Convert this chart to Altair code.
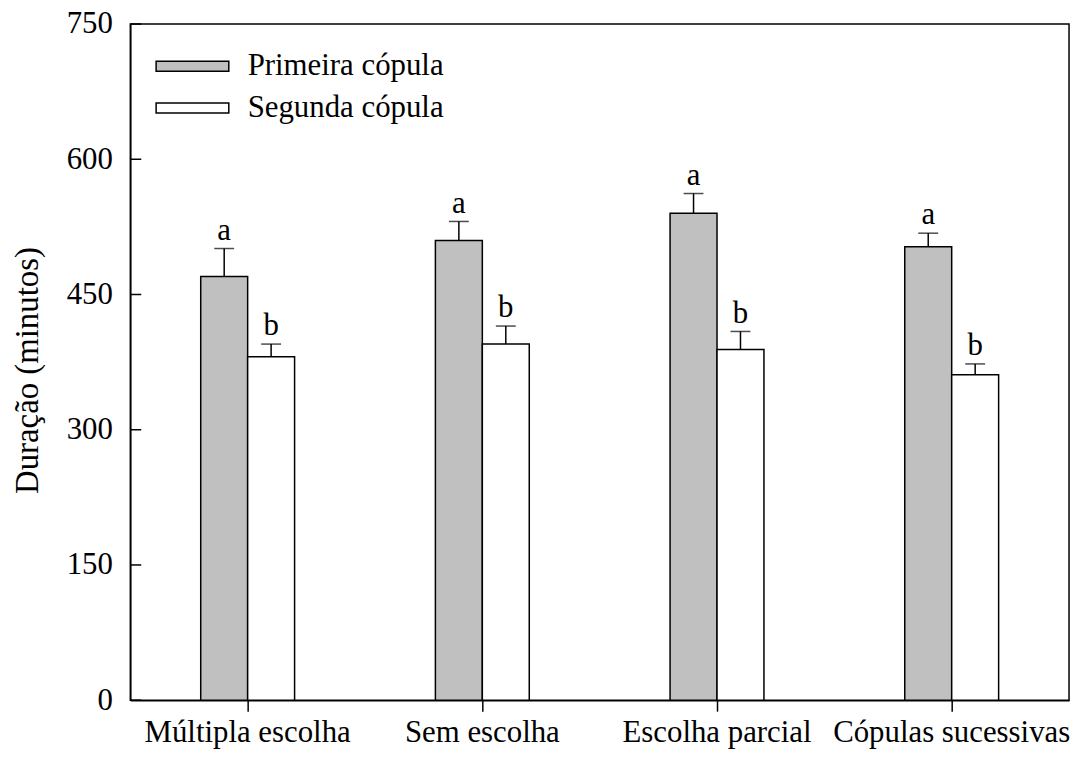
import altair as alt
import pandas as pd

categories = ["Múltipla escolha", "Sem escolha", "Escolha parcial", "Cópulas sucessivas"]
series = ["Primeira cópula", "Segunda cópula"]
primeira = [470, 510, 540, 503]
primeira_err = [31, 21, 22, 15]
segunda = [381, 395, 389, 361]
segunda_err = [14, 20, 20, 12]
primeira_letters = ["a", "a", "a", "a"]
segunda_letters = ["b", "b", "b", "b"]
y_ticks = [0, 150, 300, 450, 600, 750]

rows = []
for i, c in enumerate(categories):
    rows.append({"cat": c, "serie": series[0], "v": primeira[i],
                 "top": primeira[i] + primeira_err[i], "letter": primeira_letters[i]})
    rows.append({"cat": c, "serie": series[1], "v": segunda[i],
                 "top": segunda[i] + segunda_err[i], "letter": segunda_letters[i]})
df = pd.DataFrame(rows)
ticks_df = pd.DataFrame({"t": y_ticks})

FONT = "Liberation Serif"
FS = 31

x = alt.X("cat:N", sort=categories, title=None,
          scale=alt.Scale(paddingInner=0.6, paddingOuter=0.3),
          axis=alt.Axis(labelAngle=0, labelFontSize=FS, labelPadding=7, tickSize=11,
                        labelLimit=0, tickColor="black", tickWidth=1.5, labelColor="black"))
xo = alt.XOffset("serie:N", sort=series, scale=alt.Scale(paddingInner=0, paddingOuter=0))
yscale = alt.Scale(domain=[0, 750], nice=False)

base = alt.Chart(df)

bars = base.mark_bar(stroke="black", strokeWidth=1.5).encode(
    x=x, xOffset=xo,
    y=alt.Y("v:Q", scale=yscale, title="Duração (minutos)",
            axis=alt.Axis(values=y_ticks, ticks=False, tickSize=0, labelPadding=18,
                          labelFontSize=FS, labelColor="black", grid=False, labelLimit=0,
                          titleFontSize=33, titleFontWeight="normal", titleColor="black",
                          titleX=-103, titleY=348, titleAngle=-90, titleAlign="center",
                          titleBaseline="middle")),
    fill=alt.Fill("serie:N", sort=series,
                  scale=alt.Scale(domain=series, range=["#c0c0c0", "#ffffff"]),
                  legend=alt.Legend(title=None, orient="none", legendX=47, legendY=27,
                                    symbolType="M-2.52,-0.35L2.52,-0.35L2.52,0.35L-2.52,0.35Z",
                                    symbolSize=841, symbolStrokeColor="black",
                                    symbolStrokeWidth=1.5, labelFontSize=FS,
                                    labelOffset=40, rowPadding=10, padding=0,
                                    labelLimit=0, labelColor="black", labelFont=FONT)),
)

err = base.mark_rule(color="black", strokeWidth=1.5).encode(
    x=x, xOffset=xo, y=alt.Y("v:Q", scale=yscale), y2="top:Q")

caps = base.mark_tick(color="black", thickness=1.5, size=20).encode(
    x=x, xOffset=xo, y=alt.Y("top:Q", scale=yscale))

letters = base.mark_text(fontSize=FS, font=FONT, baseline="alphabetic", dy=-9,
                         color="black").encode(
    x=x, xOffset=xo, y=alt.Y("top:Q", scale=yscale), text="letter:N")

yticks = alt.Chart(ticks_df).mark_rule(color="black", strokeWidth=1.5).encode(
    y=alt.Y("t:Q", scale=yscale), x=alt.value(0), x2=alt.value(11))

chart = alt.layer(bars, err, caps, letters, yticks).properties(
    width=944, height=680,
    autosize=alt.AutoSizeParams(type="none"),
    padding={"left": 123, "top": 14, "right": 6, "bottom": 55},
).configure(font=FONT).configure_view(
    stroke="black", strokeWidth=1.5
).configure_axis(
    domainColor="black", domainWidth=1.5, labelFont=FONT, titleFont=FONT
)

chart.save("out.html", embed_options={"renderer": "svg", "actions": False})
